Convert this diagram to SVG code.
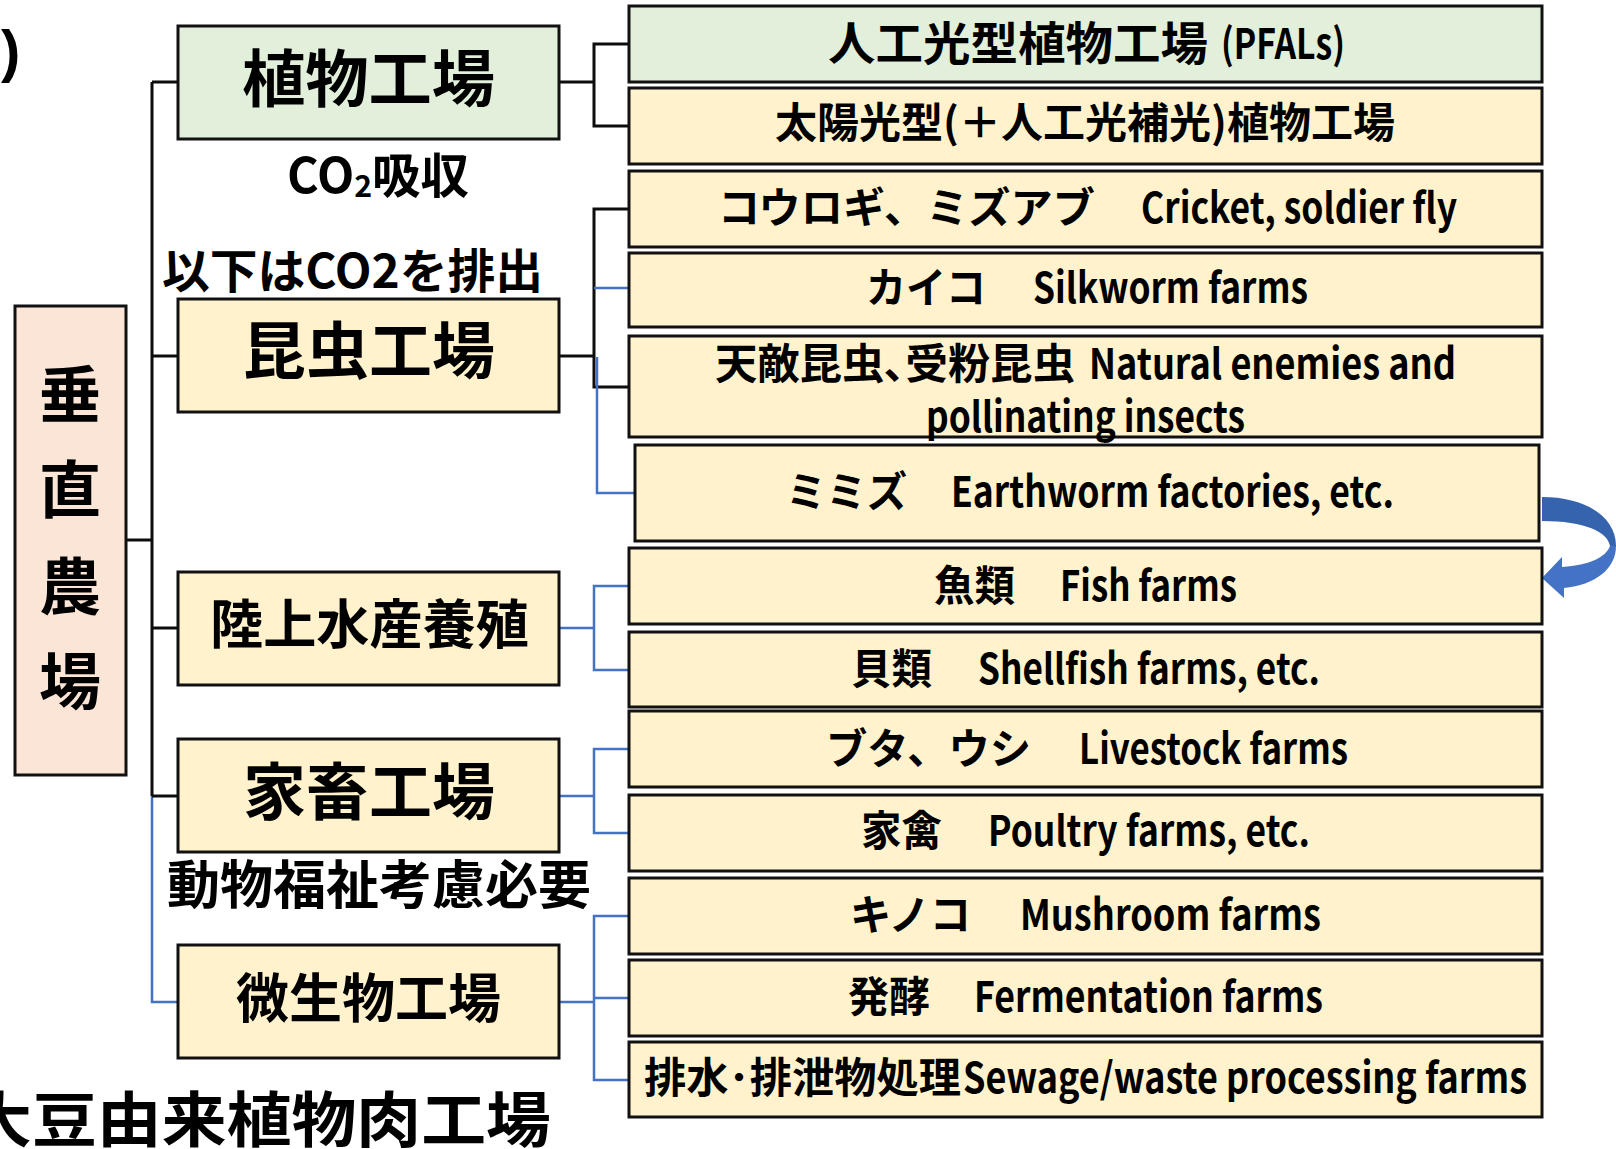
<svg xmlns="http://www.w3.org/2000/svg" width="1616" height="1149" viewBox="0 0 1616 1149">
<style>
text{font-family:"Noto Sans CJK JP","Noto Sans",sans-serif;font-weight:700;fill:#000;dominant-baseline:central}
.box{stroke:#111;stroke-width:3}
.g{fill:#E2EFDA}
.y{fill:#FFF2CC}
.p{fill:#FBE5D6}
.k{fill:none;stroke:#0d0d0d;stroke-width:3}
.b{fill:none;stroke:#4472C4;stroke-width:2.5}
.cat{font-size:62px}
.sub{font-size:42px}
.lbl{font-size:48px}
</style>
<rect width="1616" height="1149" fill="#fff"/>
<g id="connectors">
  <path class="k" d="M126,540 H152"/>
  <path class="k" d="M152,82 V796"/>
  <path class="b" d="M152,796 V1002 H178"/>
  <path class="k" d="M152,82 H178 M152,356 H178 M152,628 H178 M152,796 H178"/>
  <path class="k" d="M559,82 H594 M629,44 H594 V126 H629"/>
  <path class="k" d="M559,356 H594 M629,209 H594 V387 H629"/>
  <path class="b" d="M594,288 H629"/>
  <path class="b" d="M597,357 V493 H635"/>
  <path class="b" d="M559,628 H594 M629,586 H594 V670 H629"/>
  <path class="b" d="M559,796 H594 M629,749 H594 V833 H629"/>
  <path class="b" d="M559,1002 H594 M629,916 H594 V1080 H629 M594,998 H629"/>
  <g id="cycle-arrow">
    <path d="M1542,497 C1586,497 1616,517 1616,546 L1610,546 C1608,532 1585,521 1542,521 Z" fill="#3563AE"/>
    <path d="M1616,546 C1616,569 1595,585 1564,588 L1564,598 L1542,578 L1562,557 L1562,567 C1590,565 1606,557 1610,546 Z" fill="#4472C4"/>
  </g>
</g>
<g id="root">
  <rect class="box p" x="15" y="306" width="111" height="469"/>
  <text x="70" y="391" font-size="62" text-anchor="middle">垂</text>
  <text x="70" y="486" font-size="62" text-anchor="middle">直</text>
  <text x="70" y="583" font-size="62" text-anchor="middle">農</text>
  <text x="70" y="678" font-size="62" text-anchor="middle">場</text>
</g>
<g id="cat-plant">
  <rect class="box g" x="178" y="26" width="381" height="113"/>
  <text class="cat" x="242" y="75" textLength="253" lengthAdjust="spacingAndGlyphs">植物工場</text>
</g>
<g id="cat-insect">
  <rect class="box y" x="178" y="299" width="381" height="113"/>
  <text class="cat" x="243" y="347" textLength="252" lengthAdjust="spacingAndGlyphs">昆虫工場</text>
</g>
<g id="cat-aqua">
  <rect class="box y" x="178" y="572" width="381" height="113"/>
  <text x="210" y="621" textLength="319" lengthAdjust="spacingAndGlyphs" style="font-size:53px">陸上水産養殖</text>
</g>
<g id="cat-livestock">
  <rect class="box y" x="178" y="739" width="381" height="113"/>
  <text class="cat" x="243" y="788" textLength="252" lengthAdjust="spacingAndGlyphs">家畜工場</text>
</g>
<g id="cat-micro">
  <rect class="box y" x="178" y="945" width="381" height="113"/>
  <text x="236" y="995" textLength="265" lengthAdjust="spacingAndGlyphs" style="font-size:53px">微生物工場</text>
</g>
<g id="labels">
  <text x="1" y="71" font-size="58" style="font-family:'Liberation Sans',sans-serif;dominant-baseline:auto">)</text>
  <text x="287" y="172" class="lbl" textLength="182" lengthAdjust="spacingAndGlyphs">CO<tspan font-size="30" dy="12">2</tspan><tspan dy="-12">吸収</tspan></text>
  <text x="162" y="267" style="font-size:47px" textLength="381" lengthAdjust="spacingAndGlyphs">以下はCO2を排出</text>
  <text x="167" y="881" style="font-size:52px" textLength="424" lengthAdjust="spacingAndGlyphs">動物福祉考慮必要</text>
  <text x="-33" y="1115" style="font-size:60px" textLength="584" lengthAdjust="spacingAndGlyphs">大豆由来植物肉工場</text>
</g>
<g id="n1"><rect class="box g" x="629" y="6" width="913" height="76"/>
  <text x="828" y="40" style="font-size:46px" textLength="380" lengthAdjust="spacingAndGlyphs">人工光型植物工場</text>
  <text class="sub" x="1221" y="40" textLength="124" lengthAdjust="spacingAndGlyphs">(PFALs)</text></g>
<g id="n2"><rect class="box y" x="629" y="88" width="913" height="76"/>
  <text class="sub" x="775" y="119" textLength="620" lengthAdjust="spacingAndGlyphs">太陽光型(＋人工光補光)植物工場</text></g>
<g id="n3"><rect class="box y" x="629" y="171" width="913" height="76"/>
  <text class="sub" x="718" y="204" textLength="377" lengthAdjust="spacingAndGlyphs">コウロギ、ミズアブ</text>
  <text class="sub" x="1141" y="204" textLength="316" lengthAdjust="spacingAndGlyphs">Cricket, soldier fly</text></g>
<g id="n4"><rect class="box y" x="629" y="253" width="913" height="74"/>
  <text class="sub" x="866" y="284" textLength="120" lengthAdjust="spacingAndGlyphs">カイコ</text>
  <text class="sub" x="1033" y="284" textLength="275" lengthAdjust="spacingAndGlyphs">Silkworm farms</text></g>
<g id="n5"><rect class="box y" x="629" y="336" width="913" height="101"/>
  <text class="sub" x="715" y="360" textLength="360" lengthAdjust="spacingAndGlyphs">天敵昆虫､受粉昆虫</text>
  <text class="sub" x="1089" y="360" textLength="367" lengthAdjust="spacingAndGlyphs">Natural enemies and</text>
  <text class="sub" x="926" y="413" textLength="319" lengthAdjust="spacingAndGlyphs">pollinating insects</text></g>
<g id="n6"><rect class="box y" x="635" y="445" width="904" height="96"/>
  <text class="sub" x="786" y="488" textLength="121" lengthAdjust="spacingAndGlyphs">ミミズ</text>
  <text class="sub" x="951" y="488" textLength="443" lengthAdjust="spacingAndGlyphs">Earthworm factories, etc.</text></g>
<g id="n7"><rect class="box y" x="629" y="548" width="913" height="76"/>
  <text class="sub" x="934" y="582" textLength="81" lengthAdjust="spacingAndGlyphs">魚類</text>
  <text class="sub" x="1060" y="582" textLength="177" lengthAdjust="spacingAndGlyphs">Fish farms</text></g>
<g id="n8"><rect class="box y" x="629" y="632" width="913" height="75"/>
  <text class="sub" x="851" y="665" textLength="81" lengthAdjust="spacingAndGlyphs">貝類</text>
  <text class="sub" x="978" y="665" textLength="342" lengthAdjust="spacingAndGlyphs">Shellfish farms, etc.</text></g>
<g id="n9"><rect class="box y" x="629" y="711" width="913" height="76"/>
  <text class="sub" x="826" y="745" textLength="205" lengthAdjust="spacingAndGlyphs">ブタ、ウシ</text>
  <text class="sub" x="1079" y="745" textLength="269" lengthAdjust="spacingAndGlyphs">Livestock farms</text></g>
<g id="n10"><rect class="box y" x="629" y="795" width="913" height="76"/>
  <text class="sub" x="861" y="827" textLength="81" lengthAdjust="spacingAndGlyphs">家禽</text>
  <text class="sub" x="988" y="827" textLength="322" lengthAdjust="spacingAndGlyphs">Poultry farms, etc.</text></g>
<g id="n11"><rect class="box y" x="629" y="878" width="913" height="76"/>
  <text class="sub" x="850" y="911" textLength="121" lengthAdjust="spacingAndGlyphs">キノコ</text>
  <text class="sub" x="1020" y="911" textLength="301" lengthAdjust="spacingAndGlyphs">Mushroom farms</text></g>
<g id="n12"><rect class="box y" x="629" y="960" width="913" height="76"/>
  <text class="sub" x="848" y="993" textLength="82" lengthAdjust="spacingAndGlyphs">発酵</text>
  <text class="sub" x="974" y="993" textLength="349" lengthAdjust="spacingAndGlyphs">Fermentation farms</text></g>
<g id="n13"><rect class="box y" x="629" y="1042" width="913" height="75"/>
  <text class="sub" x="644" y="1074" textLength="317" lengthAdjust="spacingAndGlyphs">排水･排泄物処理</text>
  <text class="sub" x="963" y="1074" textLength="564" lengthAdjust="spacingAndGlyphs">Sewage/waste processing farms</text></g>
</svg>
